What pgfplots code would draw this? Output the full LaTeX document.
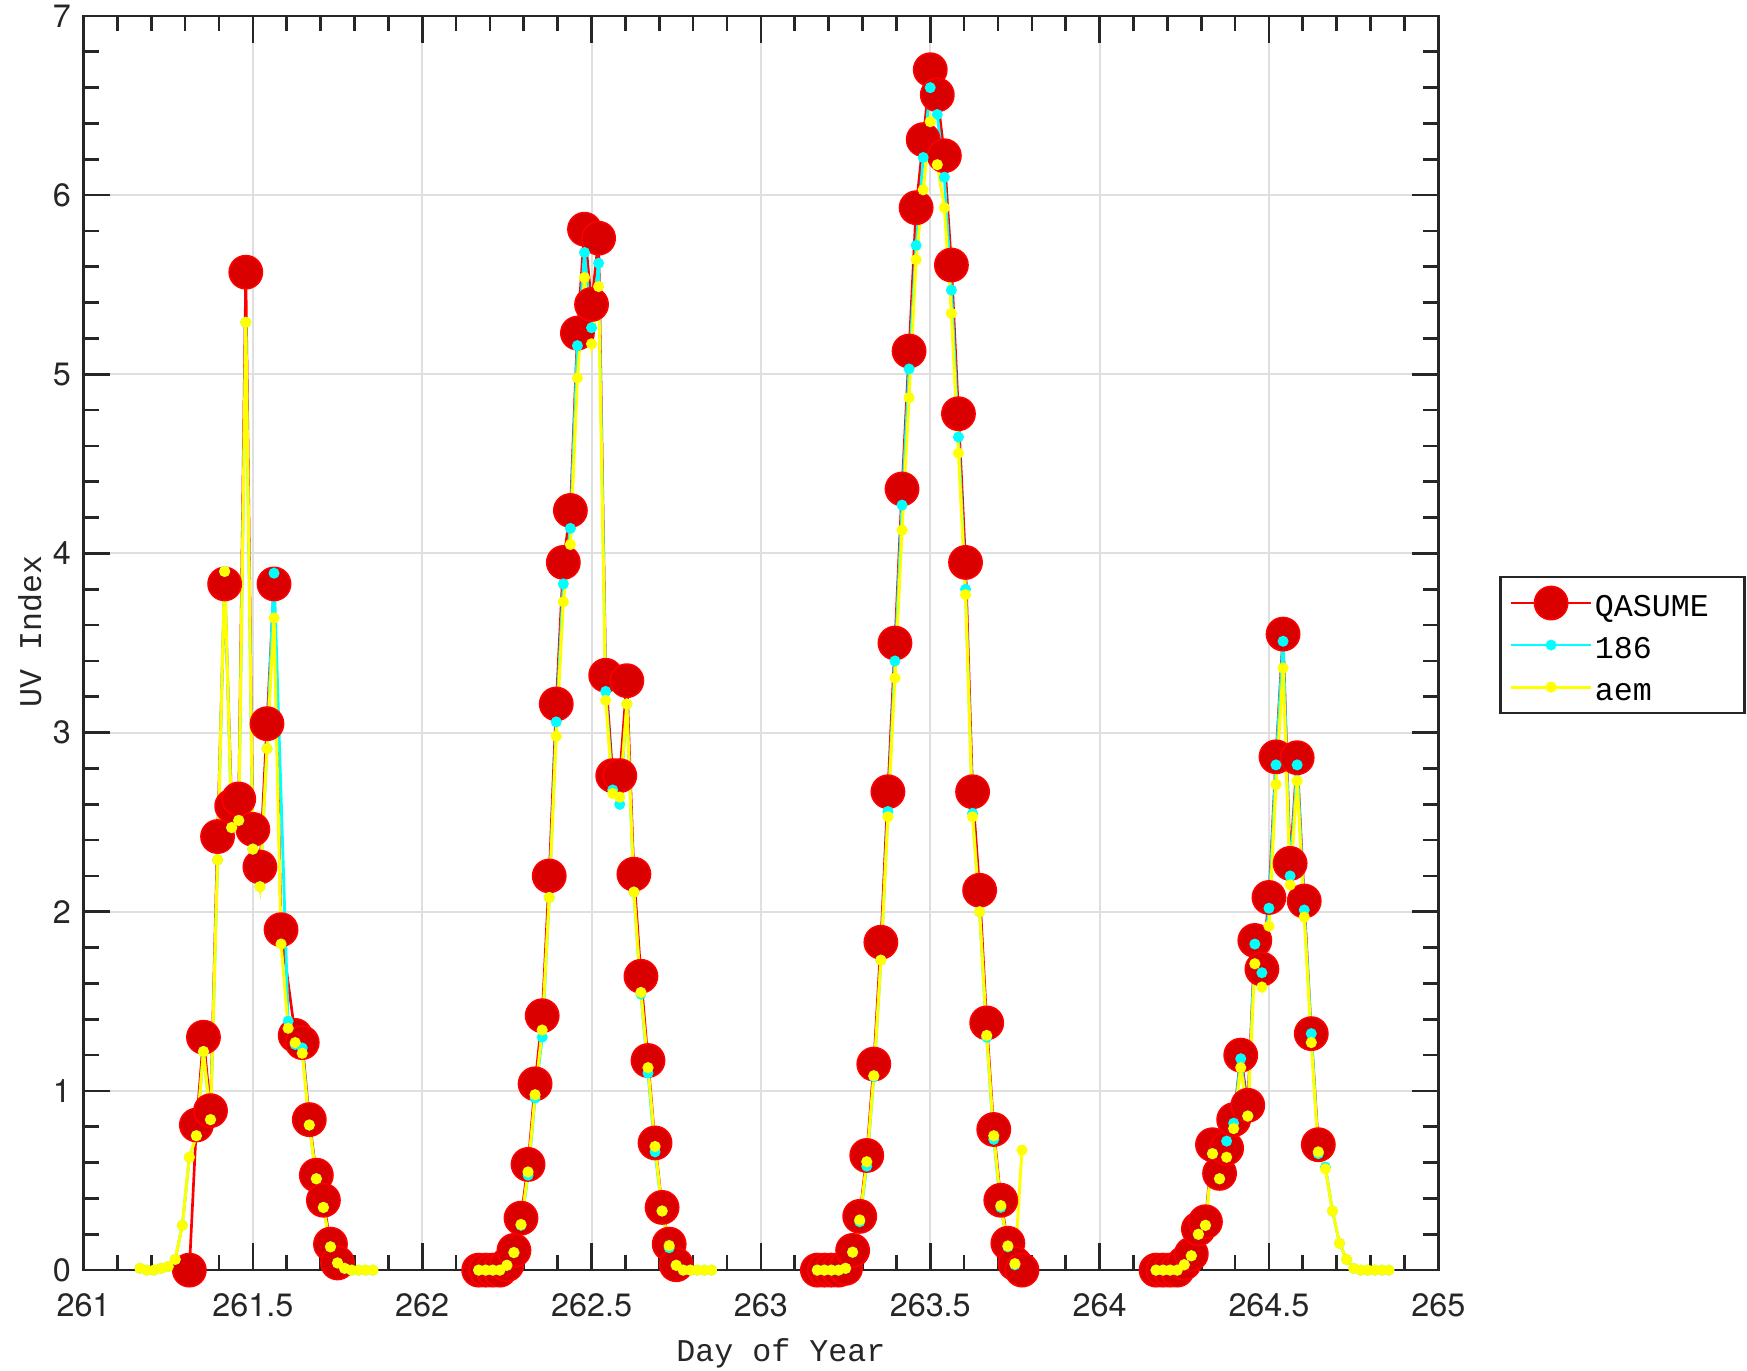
\documentclass[border=0pt]{standalone}
\usepackage{fontspec}
\usepackage{pgfplots}
\usepackage{pgfplotstable}
\pgfplotsset{compat=1.18}
\newfontfamily\mono{Liberation Mono}
\newfontfamily\heros{TeX Gyre Heros}
\definecolor{qred}{RGB}{218,0,0}
\definecolor{pred}{RGB}{255,0,0}
\definecolor{pcyan}{RGB}{0,255,255}
\definecolor{pyellow}{RGB}{255,255,0}
\definecolor{axgray}{RGB}{38,38,38}
\definecolor{gridgray}{RGB}{223,223,223}

\pgfplotstableread{
x y
261.3125 0.00
261.3333 0.81
261.3542 1.30
261.3750 0.89
261.3958 2.42
261.4167 3.83
261.4375 2.59
261.4583 2.63
261.4792 5.57
261.5000 2.46
261.5208 2.25
261.5417 3.05
261.5625 3.83
261.5833 1.90
261.6250 1.31
261.6458 1.27
261.6667 0.84
261.6875 0.53
261.7083 0.39
261.7292 0.145
261.7500 0.04
262.0 nan
262.1667 0
262.1875 0
262.2083 0
262.2292 0
262.2500 0.03
262.2708 0.11
262.2917 0.29
262.3125 0.59
262.3333 1.04
262.3542 1.42
262.3750 2.20
262.3958 3.16
262.4167 3.95
262.4375 4.24
262.4583 5.23
262.4792 5.81
262.5000 5.39
262.5208 5.76
262.5417 3.32
262.5625 2.76
262.5833 2.76
262.6042 3.29
262.6250 2.21
262.6458 1.64
262.6667 1.17
262.6875 0.71
262.7083 0.35
262.7292 0.145
262.7500 0.03
263.0 nan
263.1667 0
263.1875 0
263.2083 0
263.2292 0
263.2500 0.01
263.2708 0.11
263.2917 0.30
263.3125 0.64
263.3333 1.15
263.3542 1.83
263.3750 2.67
263.3958 3.50
263.4167 4.36
263.4375 5.13
263.4583 5.93
263.4792 6.31
263.5000 6.70
263.5208 6.56
263.5417 6.22
263.5625 5.61
263.5833 4.78
263.6042 3.95
263.6250 2.67
263.6458 2.12
263.6667 1.38
263.6875 0.785
263.7083 0.39
263.7292 0.15
263.7500 0.036
263.7708 0.00
264.0 nan
264.1667 0
264.1875 0
264.2083 0
264.2292 0
264.2500 0.04
264.2708 0.09
264.2917 0.23
264.3125 0.27
264.3333 0.70
264.3542 0.54
264.3750 0.68
264.3958 0.84
264.4167 1.20
264.4375 0.92
264.4583 1.84
264.4792 1.68
264.5000 2.08
264.5208 2.865
264.5417 3.55
264.5625 2.27
264.5833 2.86
264.6042 2.06
264.6250 1.32
264.6458 0.70
}\qasume

\pgfplotstableread{
x y
261.1667 0.01
261.1875 0
261.2083 0
261.2292 0.01
261.2500 0.02
261.2708 0.06
261.2917 0.25
261.3125 0.63
261.3333 0.75
261.3542 1.22
261.3750 0.84
261.3958 2.29
261.4167 3.90
261.4375 2.47
261.4583 2.51
261.4792 5.29
261.5000 2.35
261.5208 2.14
261.5417 2.91
261.5625 3.89
261.6042 1.39
261.6250 1.26
261.6458 1.24
261.6667 0.81
261.6875 0.51
261.7083 0.35
261.7292 0.13
261.7500 0.04
261.7708 0.01
261.7917 0
261.8125 0
261.8333 0
261.8542 0
262.0 nan
262.1667 0
262.1875 0
262.2083 0
262.2292 0
262.2500 0.027
262.2708 0.098
262.2917 0.25
262.3125 0.53
262.3333 0.96
262.3542 1.30
262.3750 2.08
262.3958 3.06
262.4167 3.83
262.4375 4.14
262.4583 5.16
262.4792 5.68
262.5000 5.26
262.5208 5.62
262.5417 3.23
262.5625 2.68
262.5833 2.60
262.6042 3.16
262.6250 2.11
262.6458 1.54
262.6667 1.10
262.6875 0.66
262.7083 0.33
262.7292 0.125
262.7500 0.027
262.7708 0
262.7917 0
262.8125 0
262.8333 0
262.8542 0
263.0 nan
263.1667 0
263.1875 0
263.2083 0
263.2292 0
263.2500 0.01
263.2708 0.10
263.2917 0.27
263.3125 0.58
263.3333 1.08
263.3542 1.73
263.3750 2.56
263.3958 3.40
263.4167 4.27
263.4375 5.03
263.4583 5.72
263.4792 6.21
263.5000 6.60
263.5208 6.45
263.5417 6.10
263.5625 5.47
263.5833 4.65
263.6042 3.80
263.6250 2.55
263.6458 2.00
263.6667 1.30
263.6875 0.73
263.7083 0.35
263.7292 0.13
263.7500 0.03
264.0 nan
264.1667 0
264.1875 0
264.2083 0
264.2292 0
264.2500 0.03
264.2708 0.08
264.2917 0.20
264.3125 0.25
264.3333 0.65
264.3542 0.51
264.3750 0.72
264.3958 0.82
264.4167 1.18
264.4375 0.86
264.4583 1.82
264.4792 1.66
264.5000 2.02
264.5208 2.82
264.5417 3.51
264.5625 2.20
264.5833 2.82
264.6042 2.01
264.6250 1.32
264.6458 0.65
264.6667 0.575
264.6875 0.33
264.7083 0.15
264.7292 0.06
264.7500 0.01
264.7708 0
264.7917 0
264.8125 0
264.8333 0
264.8542 0
}\sone

\pgfplotstableread{
x y
261.1667 0.01
261.1875 0
261.2083 0
261.2292 0.01
261.2500 0.02
261.2708 0.06
261.2917 0.25
261.3125 0.63
261.3333 0.75
261.3542 1.22
261.3750 0.84
261.3958 2.29
261.4167 3.90
261.4375 2.47
261.4583 2.51
261.4792 5.29
261.5000 2.35
261.5208 2.14
261.5417 2.91
261.5625 3.64
261.5833 1.82
261.6042 1.35
261.6250 1.27
261.6458 1.21
261.6667 0.81
261.6875 0.51
261.7083 0.35
261.7292 0.13
261.7500 0.04
261.7708 0.01
261.7917 0
261.8125 0
261.8333 0
261.8542 0
262.0 nan
262.1667 0
262.1875 0
262.2083 0
262.2292 0
262.2500 0.027
262.2708 0.098
262.2917 0.255
262.3125 0.548
262.3333 0.979
262.3542 1.34
262.3750 2.08
262.3958 2.98
262.4167 3.73
262.4375 4.05
262.4583 4.98
262.4792 5.54
262.5000 5.17
262.5208 5.49
262.5417 3.18
262.5625 2.66
262.5833 2.64
262.6042 3.16
262.6250 2.11
262.6458 1.55
262.6667 1.13
262.6875 0.69
262.7083 0.33
262.7292 0.137
262.7500 0.027
262.7708 0
262.7917 0
262.8125 0
262.8333 0
262.8542 0
263.0 nan
263.1667 0
263.1875 0
263.2083 0
263.2292 0
263.2500 0.01
263.2708 0.10
263.2917 0.28
263.3125 0.605
263.3333 1.085
263.3542 1.73
263.3750 2.53
263.3958 3.305
263.4167 4.13
263.4375 4.87
263.4583 5.64
263.4792 6.03
263.5000 6.41
263.5208 6.17
263.5417 5.93
263.5625 5.34
263.5833 4.56
263.6042 3.77
263.6250 2.53
263.6458 2.00
263.6667 1.31
263.6875 0.75
263.7083 0.36
263.7292 0.135
263.7500 0.036
263.7708 0.67
264.0 nan
264.1667 0
264.1875 0
264.2083 0
264.2292 0
264.2500 0.03
264.2708 0.08
264.2917 0.20
264.3125 0.25
264.3333 0.65
264.3542 0.51
264.3750 0.63
264.3958 0.79
264.4167 1.13
264.4375 0.86
264.4583 1.71
264.4792 1.58
264.5000 1.92
264.5208 2.71
264.5417 3.36
264.5625 2.15
264.5833 2.73
264.6042 1.97
264.6250 1.27
264.6458 0.66
264.6667 0.565
264.6875 0.33
264.7083 0.15
264.7292 0.06
264.7500 0.01
264.7708 0
264.7917 0
264.8125 0
264.8333 0
264.8542 0
}\aem

\begin{document}
\begin{tikzpicture}
\useasboundingbox (-25.05bp,-30bp) rectangle (499bp,381bp);
\begin{axis}[
  scale only axis,
  width=406.4bp, height=376.2bp,
  xmin=261, xmax=265, ymin=0, ymax=7,
  enlargelimits=false,
  clip=false,
  unbounded coords=jump,
  axis line style={axgray, line width=0.8bp},
  tick style={axgray, line width=0.8bp},
  tick align=inside,
  major tick length=8bp,
  minor tick length=4.6bp,
  xtick={261,261.5,262,262.5,263,263.5,264,264.5,265},
  xticklabels={261,261.5,262,262.5,263,263.5,264,264.5,265},
  ytick={0,1,2,3,4,5,6,7},
  yticklabels={0,1,2,3,4,5,6,7},
  minor x tick num=4,
  minor y tick num=4,
  scaled x ticks=false,
  grid=major,
  grid style={gridgray, line width=0.6bp},
  xticklabel style={font=\heros\fontsize{9.7bp}{11bp}\selectfont, text=axgray, inner sep=0pt, anchor=north, yshift=-6.9bp},
  yticklabel style={font=\heros\fontsize{9.7bp}{11bp}\selectfont, text=axgray, inner sep=0pt, anchor=east, xshift=-3.6bp},
  xlabel={Day of Year},
  ylabel={UV Index},
  xlabel style={font=\mono\fontsize{9.5bp}{11bp}\selectfont, text=axgray, at={(axis description cs:0.5148,0)}, anchor=base, yshift=-27.5bp, inner sep=0pt},
  ylabel style={font=\mono\fontsize{9.5bp}{11bp}\selectfont, text=axgray, at={(axis description cs:-0.03137,0.509)}, anchor=base, inner sep=0pt},
  title={UV Index Madrid, September 2015},
  title style={font=\mono\bfseries\fontsize{9.5bp}{11bp}\selectfont, at={(axis description cs:0.5276,1)}, anchor=base, yshift=3.4bp, inner sep=0pt},
  legend image code/.code={\draw[mark repeat=2,mark phase=2,#1] plot coordinates {(0bp,0bp) (12bp,0bp) (24bp,0bp)};},
  legend cell align=left,
  legend style={at={(axis description cs:1.045,0.5537)}, anchor=north west,
    draw=axgray, line width=0.8bp, fill=white,
    inner xsep=2.7bp, inner ysep=1.5bp, row sep=0pt,
    font=\mono\fontsize{9.5bp}{11bp}\selectfont,
    nodes={inner sep=0pt, inner xsep=0.7bp, text width=41.4bp, text height=10.3bp, text depth=2.3bp, text=black}},
]
\addplot[pred, line width=0.8bp, mark=*, mark size=5bp, mark options={fill=qred, draw=pred, line width=0.45bp, solid}] table[x=x,y=y] {\qasume};
\addlegendentry{QASUME}
\addplot[pcyan, line width=0.85bp, mark=*, mark size=1.2bp, mark options={fill=pcyan, draw=none, solid}] table[x=x,y=y] {\sone};
\addlegendentry{186}
\addplot[pyellow, line width=0.9bp, mark=*, mark size=1.2bp, mark options={fill=pyellow, draw=none, solid}] table[x=x,y=y] {\aem};
\addlegendentry{aem}
\end{axis}
\end{tikzpicture}
\end{document}
